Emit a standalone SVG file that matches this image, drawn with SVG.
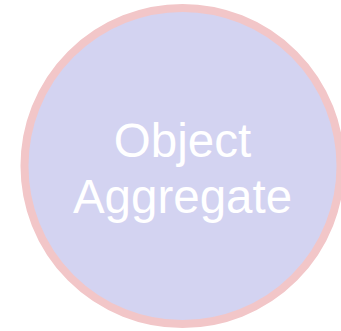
<svg xmlns="http://www.w3.org/2000/svg" width="341" height="331" viewBox="0 0 341 331">
<style>
.node{fill:#d3d3f1;stroke:#f2c6c8;stroke-width:8}
.label{font-family:"Liberation Sans",Arial,sans-serif;font-size:47.5px;fill:#ffffff;text-anchor:middle}
</style>
<rect width="341" height="331" fill="#ffffff"/>
<g id="connectors"></g>
<g id="object-aggregate">
<circle class="node" cx="182.5" cy="166" r="158"/>
<text class="label" x="182.5" y="157">Object</text>
<text class="label" x="182.5" y="213">Aggregate</text>
</g>
</svg>
